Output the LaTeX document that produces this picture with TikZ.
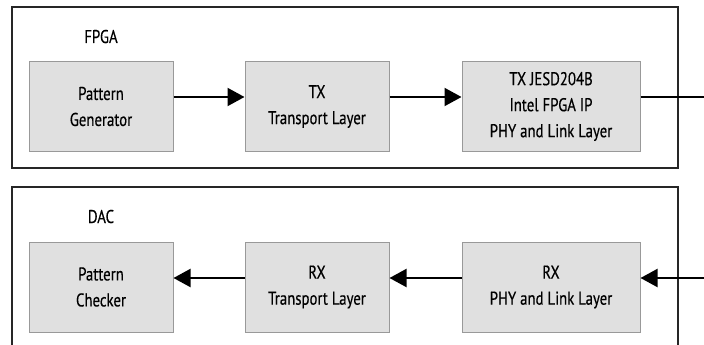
\documentclass[tikz,border=0pt]{standalone}
\usepackage{fontspec}
\setmainfont{PT Sans}[FakeStretch=0.8,FakeBold=0.4]
\usetikzlibrary{arrows.meta}
\begin{document}
\begin{tikzpicture}[x=1pt,y=-1pt,
  outer/.style={draw=black!85,line width=1.5pt},
  blk/.style={draw=black!40,fill=black!12,line width=1pt,align=center,
    font=\fontsize{18.5}{26}\selectfont,inner sep=0pt},
  lbl/.style={font=\fontsize{18.5}{26}\selectfont,inner sep=0pt,anchor=base},
  conn/.style={line width=2pt,-{Triangle[length=17pt,width=18pt]}}]
\useasboundingbox (0,0) rectangle (704,345);
% outer frames
\draw[outer] (12,7) rectangle (678,168);
\draw[outer] (12,345) -- (12,187) -- (678,187) -- (678,345);
\node[lbl] (fpga) at (101,43) {FPGA};
\node[lbl] (dac) at (101,223) {DAC};
% top row
\node[blk,minimum width=144pt,minimum height=89pt] (pg) at (101,106.5) {Pattern\\Generator};
\node[blk,minimum width=144pt,minimum height=89pt] (txt) at (317,106.5) {TX\\Transport Layer};
\node[blk,minimum width=178pt,minimum height=89pt] (txl) at (551,106.5) {TX JESD204B\\Intel FPGA IP\\PHY and Link Layer};
% bottom row
\node[blk,minimum width=144pt,minimum height=90pt] (pc) at (101,287) {Pattern\\Checker};
\node[blk,minimum width=144pt,minimum height=90pt] (rxt) at (317,287) {RX\\Transport Layer};
\node[blk,minimum width=178pt,minimum height=90pt] (rxl) at (551,287) {RX\\PHY and Link Layer};
\coordinate (outT) at (704,97);
\coordinate (inB) at (704,278);
\draw[conn] (pg.east |- 0,97) -- (txt.west |- 0,97);
\draw[conn] (txt.east |- 0,97) -- (txl.west |- 0,97);
\draw[line width=2pt] (txl.east |- 0,97) -- (outT);
\draw[conn] (inB) -- (rxl.east |- 0,278);
\draw[conn] (rxl.west |- 0,278) -- (rxt.east |- 0,278);
\draw[conn] (rxt.west |- 0,278) -- (pc.east |- 0,278);
\end{tikzpicture}
\end{document}
